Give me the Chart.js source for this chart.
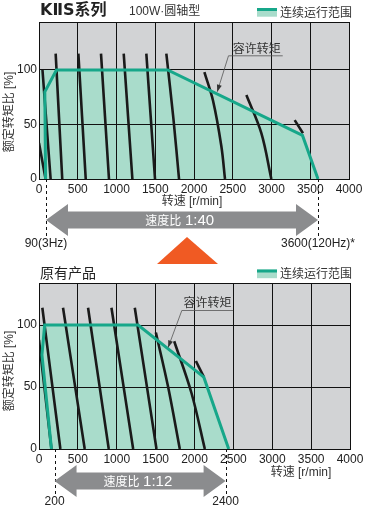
<!DOCTYPE html>
<html>
<head>
<meta charset="utf-8">
<script src="https://cdn.jsdelivr.net/npm/chart.js@4.4.1/dist/chart.umd.min.js"></script>
<style>
  body { margin: 0; background: #fff; width: 373px; height: 510px; position: relative; overflow: hidden; }
  canvas { position: absolute; left: 0; }
  #c1 { top: 0; }
  #c2 { top: 260px; }
</style>
</head>
<body>
<canvas id="c1" width="373" height="270"></canvas>
<canvas id="c2" width="373" height="250"></canvas>
<script>
// axis ticks (r/min, %)
var speedTicks = [0, 500, 1000, 1500, 2000, 2500, 3000, 3500, 4000];
var torqueTicks = [0, 50, 100];

// KIIS series: continuous range outline, fill area, permissible torque curves
var kiisRange = [[85, 0], [75, 80], [225, 100], [1660, 100], [3400, 40], [3600, 0]];
var kiisArea = [[0, 0], [0, 100], [1660, 100], [3400, 40], [3600, 0]];
var kiisCurves = [
  [[0, 33], [85, 0]],
  [[45, 100], [150, 0]],
  [[215, 115], [300, 0]],
  [[508, 115], [603, 0]],
  [[800, 115], [903, 0]],
  [[1093, 115], [1205, 0]],
  [[1385, 115], [1497, 0]],
  [[1643, 115], [1735, 55], [1807, 0]],
  [[2134, 98], [2245, 72], [2353, 30], [2400, 0]],
  [[2676, 77], [2869, 42], [2998, 0]],
  [[3299, 54], [3406, 42]]
];
var kiisSpan = [90, 3600];
var kiisSpanLabels = ["90(3Hz)", "3600(120Hz)*"];

// old product
var oldRange = [[160, 0], [38, 76], [73, 100], [1275, 100], [2120, 58], [2440, 0]];
var oldArea = [[0, 0], [0, 100], [1275, 100], [2120, 58], [2440, 0]];
var oldCurves = [
  [[0, 88], [160, 0]],
  [[43, 114], [275, 0]],
  [[309, 114], [588, 0]],
  [[631, 114], [897, 0]],
  [[932, 114], [1211, 0]],
  [[1232, 114], [1511, 0]],
  [[1503, 94], [1661, 50], [1811, 0]],
  [[1739, 87], [1962, 45], [2133, 0]],
  [[2018, 71], [2121, 58]]
];
var oldSpan = [200, 2400];
var oldSpanLabels = ["200", "2400"];

var TEAL = "#17a78a";
var FILL = "#a9dccb";
var BG = "#d2d3d5";
var FONT = "'Liberation Sans', 'Noto Sans CJK SC', sans-serif";
var CJK = "'Noto Sans CJK SC', sans-serif";

Chart.defaults.font.family = FONT;
Chart.defaults.color = "#222";

function pts(arr) {
  return arr.map(function (p) { return { x: p[0], y: p[1] }; });
}

function arrowHead(ctx, x0, y0, x1, y1) {
  var a = Math.atan2(y1 - y0, x1 - x0);
  ctx.beginPath();
  ctx.moveTo(x1, y1);
  ctx.lineTo(x1 - 7 * Math.cos(a) + 2.5 * Math.sin(a), y1 - 7 * Math.sin(a) - 2.5 * Math.cos(a));
  ctx.lineTo(x1 - 7 * Math.cos(a) - 2.5 * Math.sin(a), y1 - 7 * Math.sin(a) + 2.5 * Math.cos(a));
  ctx.closePath();
  ctx.fill();
}

function blockArrow(ctx, xl, xr, y) {
  var bh = 8.5, hh = 16, hl = 22;
  ctx.beginPath();
  ctx.moveTo(xl, y);
  ctx.lineTo(xl + hl, y - hh);
  ctx.lineTo(xl + hl, y - bh);
  ctx.lineTo(xr - hl, y - bh);
  ctx.lineTo(xr - hl, y - hh);
  ctx.lineTo(xr, y);
  ctx.lineTo(xr - hl, y + hh);
  ctx.lineTo(xr - hl, y + bh);
  ctx.lineTo(xl + hl, y + bh);
  ctx.lineTo(xl + hl, y + hh);
  ctx.closePath();
  ctx.fillStyle = "#8b8c8e";
  ctx.fill();
}

var deco = {
  id: "deco",
  beforeDraw: function (chart) {
    var a = chart.chartArea, ctx = chart.ctx;
    ctx.save();
    ctx.fillStyle = BG;
    ctx.fillRect(a.left, a.top, a.right - a.left, a.bottom - a.top);
    ctx.restore();
  },
  afterDatasetDraw: function (chart, args) {
    // grid lines stay visible on top of the green area
    if (args.index === chart.data.datasets.length - 1) {
      chart.scales.x.drawGrid(chart.chartArea);
      chart.scales.y.drawGrid(chart.chartArea);
    }
  },
  afterDraw: function (chart, args, o) {
    var ctx = chart.ctx, x = chart.scales.x, y = chart.scales.y, a = chart.chartArea;
    ctx.save();
    ctx.textBaseline = "middle";

    // title
    ctx.fillStyle = "#222";
    ctx.textAlign = "left";
    ctx.font = o.titleFont;
    ctx.fillText(o.title, 40, o.titleY);
    if (o.subtitle) {
      ctx.font = "12px " + FONT;
      ctx.fillStyle = "#333";
      ctx.fillText(o.subtitle, 129, o.titleY + 1);
    }

    // legend
    ctx.fillStyle = FILL;
    ctx.fillRect(257, o.legendY - 4, 20, 8.7);
    ctx.fillStyle = TEAL;
    ctx.fillRect(257, o.legendY - 4, 20, 3);
    ctx.fillStyle = "#333";
    ctx.font = "12px " + CJK;
    ctx.fillText("连续运行范围", 280, o.legendY);

    // axis titles
    ctx.save();
    ctx.translate(10, o.yTitleY);
    ctx.rotate(-Math.PI / 2);
    ctx.textAlign = "center";
    ctx.font = "12px " + FONT;
    ctx.fillText("额定转矩比 [%]", 0, 0);
    ctx.restore();
    ctx.textAlign = "center";
    ctx.font = "12px " + FONT;
    ctx.fillText("转速 [r/min]", o.xTitle[0], o.xTitle[1]);

    // permissible torque label with leader
    var lx = x.getPixelForValue(o.label[0]), ly = y.getPixelForValue(o.label[1]);
    ctx.font = "12px " + CJK;
    ctx.fillStyle = "#333";
    ctx.fillText("容许转矩", lx, ly);
    var u0 = x.getPixelForValue(o.underline[0]), u1 = x.getPixelForValue(o.underline[1]);
    var uy = y.getPixelForValue(o.underline[2]);
    ctx.strokeStyle = "#555";
    ctx.lineWidth = 0.8;
    ctx.beginPath();
    ctx.moveTo(u0, uy);
    ctx.lineTo(u1, uy);
    var tx = x.getPixelForValue(o.target[0]), ty = y.getPixelForValue(o.target[1]);
    ctx.moveTo(u0, uy);
    ctx.lineTo(tx, ty);
    ctx.stroke();
    ctx.fillStyle = "#333";
    arrowHead(ctx, u0, uy, tx, ty);

    // speed span
    var xl = x.getPixelForValue(o.span[0]), xr = x.getPixelForValue(o.span[1]);
    ctx.strokeStyle = "#111";
    ctx.lineWidth = 1;
    ctx.setLineDash([3, 3]);
    ctx.beginPath();
    ctx.moveTo(Math.round(xl) + 0.5, a.bottom);
    ctx.lineTo(Math.round(xl) + 0.5, o.dashEnd);
    ctx.moveTo(Math.round(xr) + 0.5, a.bottom);
    ctx.lineTo(Math.round(xr) + 0.5, o.dashEnd);
    ctx.stroke();
    ctx.setLineDash([]);
    blockArrow(ctx, xl, xr, o.arrowY);
    ctx.fillStyle = "#fff";
    var mid = (xl + xr) / 2;
    ctx.font = "12px " + CJK;
    ctx.textAlign = "right";
    ctx.fillText("速度比 ", mid + 2, o.arrowY);
    ctx.font = "15px " + FONT;
    ctx.textAlign = "left";
    ctx.fillText(o.ratio, mid + 3, o.arrowY + 0.5);
    ctx.fillStyle = "#222";
    ctx.font = "12px " + FONT;
    ctx.textAlign = "center";
    ctx.fillText(o.spanLabels[0], xl, o.spanLabelY);
    ctx.fillText(o.spanLabels[1], xr, o.spanLabelY);

    if (o.triangle) {
      ctx.fillStyle = "#f05a23";
      ctx.beginPath();
      ctx.moveTo(187, 237);
      ctx.lineTo(218, 264);
      ctx.lineTo(157, 264);
      ctx.closePath();
      ctx.fill();
    }
    ctx.restore();
  }
};

function makeChart(id, range, area, curves, yMax, pad, xHeight, decoOpts) {
  var datasets = [{
    data: pts(range), borderColor: TEAL, borderWidth: 3, pointRadius: 0, fill: false, tension: 0
  }];
  curves.forEach(function (c) {
    datasets.push({
      data: pts(c), borderColor: "#1a1a1a", borderWidth: 2.6, pointRadius: 0, fill: false, tension: 0.35
    });
  });
  datasets.push({
    data: pts(area), borderWidth: 0, borderColor: "rgba(0,0,0,0)", backgroundColor: FILL,
    pointRadius: 0, fill: "origin", tension: 0
  });

  return new Chart(document.getElementById(id), {
    type: "line",
    data: { datasets: datasets },
    options: {
      responsive: false,
      animation: false,
      layout: { padding: pad },
      plugins: { legend: { display: false }, tooltip: { enabled: false }, deco: decoOpts },
      scales: {
        x: {
          type: "linear", min: 0, max: 4000,
          afterBuildTicks: function (s) { s.ticks = speedTicks.map(function (v) { return { value: v }; }); },
          afterFit: function (s) { s.height = xHeight; },
          grid: { color: "#111", lineWidth: 1, drawTicks: false },
          border: { color: "#111" },
          ticks: {
            padding: 3, font: { size: 12 }, color: "#222", maxRotation: 0,
            callback: function (v) { return String(v); }
          }
        },
        y: {
          min: 0, max: yMax,
          afterBuildTicks: function (s) {
            s.ticks = torqueTicks.concat([yMax]).map(function (v) { return { value: v }; });
          },
          afterFit: function (s) { s.width = 39; },
          grid: { color: "#111", lineWidth: 1, drawTicks: false },
          border: { color: "#111" },
          ticks: {
            padding: 2, font: { size: 12 }, color: "#222",
            callback: function (v) { return v <= 100 ? String(v) : ""; }
          }
        }
      }
    },
    plugins: [deco]
  });
}

makeChart("c1", kiisRange, kiisArea, kiisCurves, 144, { top: 22, right: 24, left: 0, bottom: 0 }, 91, {
  title: "KⅡS系列", titleFont: "bold 16px 'DejaVu Sans', 'Noto Sans CJK SC', sans-serif", titleY: 11,
  subtitle: "100W·圆轴型",
  legendY: 12, yTitleY: 112, xTitle: [192, 202],
  label: [2810, 120], underline: [2445, 3145, 113], target: [2300, 80],
  span: kiisSpan, spanLabels: kiisSpanLabels, ratio: "1:40",
  arrowY: 220, dashEnd: 236, spanLabelY: 244, triangle: true
});

makeChart("c2", oldRange, oldArea, oldCurves, 134, { top: 23, right: 23, left: 0, bottom: 0 }, 61, {
  title: "原有产品", titleFont: "14px " + CJK, titleY: 12.5, subtitle: null,
  legendY: 13.5, yTitleY: 111, xTitle: [301, 213],
  label: [2166, 118], underline: [1837, 2494, 111.8], target: [1661, 82],
  span: oldSpan, spanLabels: oldSpanLabels, ratio: "1:12",
  arrowY: 221, dashEnd: 234, spanLabelY: 241.5, triangle: false
});
</script>
</body>
</html>
